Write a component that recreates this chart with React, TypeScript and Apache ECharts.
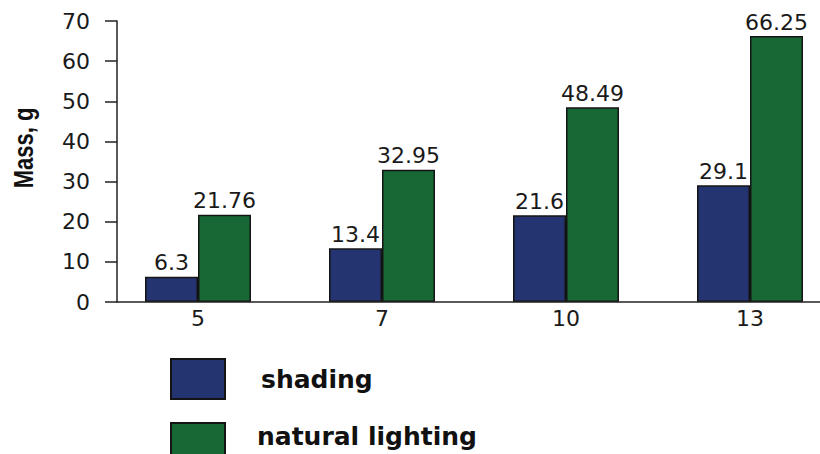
import React, { useEffect, useRef } from "react";
import * as echarts from "echarts";

const categories = ["5", "7", "10", "13"];
const shading = [6.3, 13.4, 21.6, 29.1];
const naturalLighting = [21.76, 32.95, 48.49, 66.25];
const yTicks = { min: 0, max: 70, interval: 10 };
const seriesNames = ["shading", "natural lighting"];

const BLUE = "#243470";
const GREEN = "#186836";
const EDGE = "#141414";
const LABEL_FONT = "DejaVu Sans";

export default function App() {
  const ref = useRef<HTMLDivElement>(null);
  useEffect(() => {
    if (!ref.current) return;
    const chart = echarts.init(ref.current, undefined, { renderer: "svg" });
    const valueLabel = {
      show: true,
      position: "top" as const,
      distance: 3,
      color: "#1a1a1a",
      fontFamily: LABEL_FONT,
      fontSize: 22,
    };
    const legendBase = {
      orient: "vertical",
      left: 165,
      icon: "rect",
      itemWidth: 54,
      itemHeight: 40,
    };
    const legendText = {
      color: "#111",
      fontFamily: LABEL_FONT,
      fontWeight: "bold",
      fontSize: 25,
    };
    chart.setOption({
      animation: false,
      backgroundColor: "#ffffff",
      grid: { left: 106, top: 21, width: 736, height: 281, containLabel: false },
      legend: [
        {
          ...legendBase,
          top: 353,
          textStyle: { ...legendText, padding: [0, 0, 0, 31] },
          data: [seriesNames[0]],
        },
        {
          ...legendBase,
          top: 417,
          formatter: "{t|{name}}\n{g| }",
          textStyle: {
            ...legendText,
            padding: [0, 0, 0, 27],
            rich: {
              t: { ...legendText, lineHeight: 28 },
              g: { fontSize: 8, lineHeight: 14, height: 14 },
            },
          },
          data: [seriesNames[1]],
        },
      ],
      xAxis: {
        type: "category",
        data: categories,
        axisLine: { show: false },
        axisTick: { show: false },
        axisLabel: {
          color: "#1a1a1a",
          fontFamily: LABEL_FONT,
          fontSize: 22,
          margin: 5,
        },
      },
      yAxis: {
        type: "value",
        min: yTicks.min,
        max: yTicks.max,
        interval: yTicks.interval,
        offset: -11,
        splitLine: { show: false },
        axisLine: { show: true, lineStyle: { color: "#222", width: 1.5 } },
        axisTick: { show: true, inside: false, length: 12, lineStyle: { color: "#222", width: 1.5 } },
        axisLabel: {
          color: "#1a1a1a",
          fontFamily: LABEL_FONT,
          fontSize: 22,
          margin: 27,
        },
      },
      graphic: [
        {
          type: "line",
          shape: { x1: 117, y1: 302, x2: 860, y2: 302 },
          style: { stroke: "#222", lineWidth: 1.5 },
          z: 10,
        },
        {
          type: "text",
          x: 23,
          y: 148,
          rotation: Math.PI / 2,
          scaleY: 1.25,
          style: {
            text: "Mass, g",
            fill: "#111",
            font: "bold 22px 'Liberation Sans', Arial, sans-serif",
            align: "center",
            verticalAlign: "middle",
          },
        },
      ],
      series: [
        {
          name: seriesNames[0],
          type: "bar",
          data: shading,
          barGap: "0%",
          barCategoryGap: "42.4%",
          itemStyle: { color: BLUE, borderColor: EDGE, borderWidth: 1.5 },
          label: valueLabel,
        },
        {
          name: seriesNames[1],
          type: "bar",
          data: naturalLighting,
          barGap: "0%",
          barCategoryGap: "42.4%",
          itemStyle: { color: GREEN, borderColor: EDGE, borderWidth: 1.5 },
          label: valueLabel,
        },
      ],
    });
    return () => chart.dispose();
  }, []);
  return (
    <div
      style={{
        width: 820,
        height: 454,
        position: "fixed",
        left: 0,
        top: 0,
        overflow: "hidden",
        background: "#fff",
      }}
    >
      <div ref={ref} style={{ width: 870, height: 500 }} />
    </div>
  );
}
